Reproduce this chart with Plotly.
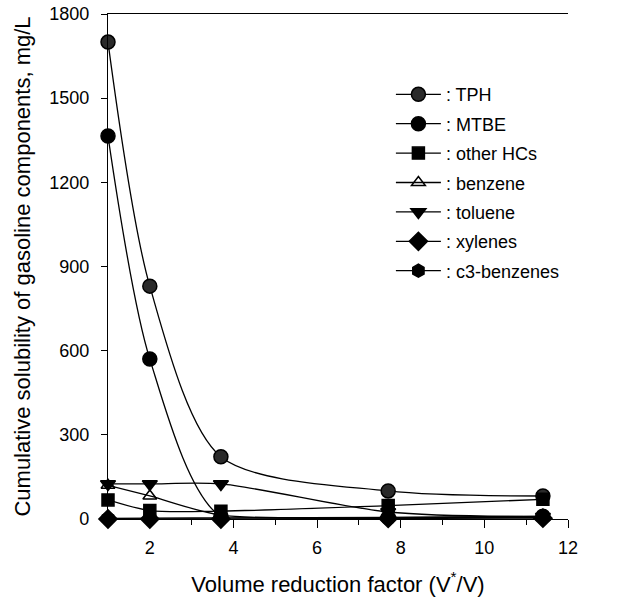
import plotly.graph_objects as go

x_vals = [1, 2, 3.7, 7.7, 11.4]

tph = [1700, 830, 222, 100, 82]
mtbe = [1365, 570, 8, 5, 10]
other_hcs = [68, 30, 28, 48, 70]
benzene = [120, 82, 14, 5, 5]
toluene = [125, 125, 125, 25, 8]
xylenes = [0, 0, 0, 2, 3]
c3_benzenes = [2, 3, 4, 6, 8]

series = [
    (": TPH", tph, "circle", "#2a2a2a", 14),
    (": MTBE", mtbe, "circle", "black", 14),
    (": other HCs", other_hcs, "square", "black", 12),
    (": benzene", benzene, "triangle-up-open", "black", 12),
    (": toluene", toluene, "triangle-down", "black", 13),
    (": xylenes", xylenes, "diamond", "black", 14),
    (": c3-benzenes", c3_benzenes, "hexagon", "black", 13),
]

fig = go.Figure()
for i, (name, vals, sym, col, sz) in enumerate(series):
    fig.add_trace(go.Scatter(
        x=x_vals, y=vals, name=name, mode="lines+markers",
        line=dict(color="black", width=1.3, shape="spline", smoothing=0.8),
        marker=dict(symbol=sym, size=sz, color=col,
                    line=dict(color="black", width=1.5)),
        cliponaxis=False, legendgroup=f"g{i}",
    ))

font_family = "Liberation Sans, Arial, sans-serif"
fig.update_layout(
    width=644, height=603,
    margin=dict(l=108, r=76, t=14, b=84),
    paper_bgcolor="white", plot_bgcolor="white",
    font=dict(family=font_family, size=18, color="black"),
    showlegend=True,
    legend=dict(x=0.615, y=0.877, xanchor="left", yanchor="top",
                bgcolor="rgba(0,0,0,0)", font=dict(size=18),
                itemwidth=45, tracegroupgap=3),
    xaxis=dict(range=[1, 12], tickvals=[2, 4, 6, 8, 10, 12],
               ticks="outside", ticklen=8, tickwidth=1.3, tickcolor="black",
               ticklabelstandoff=4, automargin=False,
               minor=dict(tickvals=[3, 5, 7, 9, 11], ticks="outside", ticklen=5,
                          tickwidth=1.3, tickcolor="black"),
               showline=True, linecolor="black", linewidth=1.3, mirror=True,
               showgrid=False, zeroline=False,
               title=dict(text="Volume reduction factor (V<sup>*</sup>/V)",
                          standoff=19)),
    yaxis=dict(range=[0, 1800], tickvals=[0, 300, 600, 900, 1200, 1500, 1800],
               ticks="outside", ticklen=6, tickwidth=1.3, tickcolor="black",
               ticklabelstandoff=8, automargin=False,
               showline=True, linecolor="black", linewidth=1.3,
               showgrid=False, zeroline=False,
               title=dict(text="Cumulative solubility of gasoline components, mg/L",
                          standoff=12)),
)

fig.write_html("out.html")
